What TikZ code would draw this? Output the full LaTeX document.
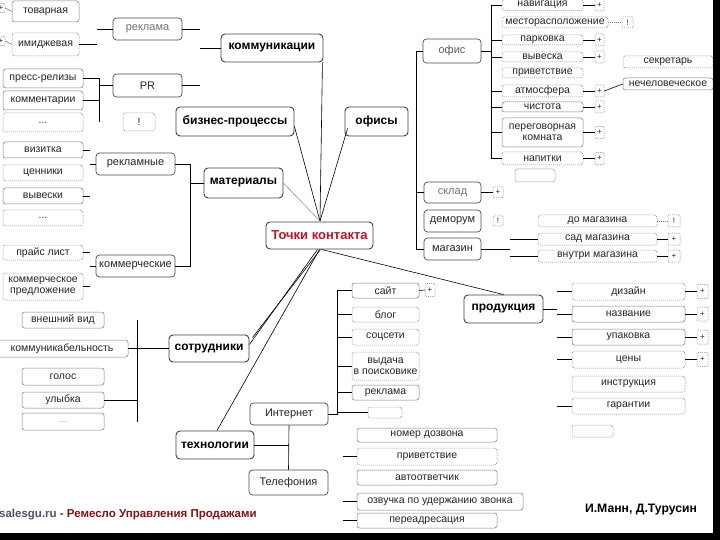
\documentclass[tikz,border=0pt]{standalone}
\usepackage{fontspec}
\setmainfont{Liberation Sans}
\usetikzlibrary{calc}
\definecolor{tkred}{RGB}{190,20,40}
\definecolor{footred}{RGB}{130,20,20}
\definecolor{footgray}{RGB}{80,80,105}
\tikzset{
  box/.style={draw=black!50, rounded corners=2.5pt, inner sep=0pt, line width=0.5pt,
    font=\fontsize{10.5}{11}\selectfont, text=black!85, align=center},
  dbox/.style={box, dash pattern=on 1pt off 1pt},
  cbox/.style={box, draw=black!70, line width=0.7pt, rounded corners=3.5pt, font=\fontsize{11}{12}\selectfont},
  mbox/.style={draw=black!75, rounded corners=4pt, line width=0.9pt, inner sep=0pt,
    font=\fontsize{12}{13}\selectfont\bfseries, align=center},
  pbox/.style={dbox, font=\fontsize{8}{8}\selectfont, rounded corners=1pt},
  ln/.style={line width=0.6pt, black},
  thinln/.style={line width=0.5pt, black!50, dash pattern=on 1pt off 1pt},
}
\begin{document}
\begin{tikzpicture}[x=1pt,y=-1pt]
\useasboundingbox (0,0) rectangle (720,540);
\clip (0,0) rectangle (720,540);
\fill[white] (0,0) rectangle (720,540);

% ---------- communications ----------
\node[box, minimum width=67, minimum height=21] (tov) at (45.5,11.5) {товарная};
\node[dbox, minimum width=67, minimum height=23] (imid) at (45.5,44.5) {имиджевая};
\node[pbox, minimum width=8, minimum height=9] (ic1) at (1,8) {+};
\node[pbox, minimum width=8, minimum height=9] (ic2) at (1,41) {+};
\draw[line width=0.4pt, black!70] (ic1.east) -- (tov.west);
\draw[line width=0.4pt, black!70] (ic2.east) -- (imid.west);
\node[cbox, text=black!55, minimum width=69, minimum height=22] (rekl) at (147.5,29) {реклама};
\node[mbox, minimum width=102, minimum height=28] (komm) at (272,48) {коммуникации};
\draw[ln] (imid.east) -- ++(18,0);
\draw[ln] (rekl.west) -- ++(-16,0);
\draw[ln] (rekl.east) -- ++(18,0);
\draw[ln] (komm.west) -- ++(-21,0);

\node[box, minimum width=80, minimum height=19] (press) at (43,78.5) {пресс-релизы};
\node[box, minimum width=80, minimum height=19] (koms) at (43,100.5) {комментарии};
\node[dbox, minimum width=80, minimum height=19] (dots1) at (43,122.5) {...};
\node[cbox, minimum width=69, minimum height=23] (pr) at (147.5,85.5) {PR};
\coordinate (prj) at (99,85.5);
\draw[ln] (press.east) -| (99,122);
\draw[ln] (koms.east) -- (koms.east -| prj);
\draw[ln] (prj) -- (pr.west);
\draw[ln] (pr.east) -- ++(18,0);
\node[dbox, minimum width=32, minimum height=18] (ib) at (139,122) {!};

% ---------- main nodes ----------
\node[mbox, minimum width=118, minimum height=29] (biz) at (235,121.5) {бизнес-процессы};
\node[mbox, minimum width=63, minimum height=29] (ofisy) at (376.5,121.5) {офисы};
\node[mbox, text=tkred, font=\fontsize{13}{14}\selectfont\bfseries, minimum width=107, minimum height=27] (tk) at (319.5,235.5) {Точки контакта};
\node[mbox, minimum width=79, minimum height=30] (mat) at (243.5,183) {материалы};
\coordinate (hubt) at (320,221);
\draw[ln] ($(biz.east)+(0,5)$) -- (hubt);
\draw[ln] ($(ofisy.south west)+(3,-8)$) -- (hubt);
\draw[ln] ($(komm.south east)+(-1,0)$) -- (hubt);
\draw[line width=0.4pt, black!55] (mat.east) -- (hubt);

% ---------- materials ----------
\node[box, minimum width=80, minimum height=16] (viz) at (43,150) {визитка};
\node[dbox, minimum width=80, minimum height=16] (cen) at (43,173) {ценники};
\node[box, minimum width=80, minimum height=16] (vyv) at (43,196) {вывески};
\node[dbox, minimum width=80, minimum height=16] (dots2) at (43,218) {...};
\node[dbox, minimum width=80, minimum height=15] (price) at (43,252.5) {прайс лист};
\node[dbox, minimum width=80, minimum height=27] (kp) at (43,286.5) {коммерческое\\предложение};
\node[cbox, minimum width=79, minimum height=22] (rn) at (135.5,164) {рекламные};
\node[cbox, minimum width=79, minimum height=22] (kn) at (135.5,266) {коммерческие};
\draw[ln] (viz.east) -- ++(7,0);
\draw[ln] (vyv.east) -- ++(7,0);
\draw[ln] (price.east) -- ++(7,0);
\draw[ln] (kp.east) -- ++(7,0);
\draw[ln] (rn.west) -- ++(-6,0);
\draw[ln] (kn.west) -- ++(-6,0);
\draw[ln] (rn.east) -- ++(15,0) |- (kn.east);
\draw[ln] (mat.west) -- ++(-14,0);

% ---------- staff ----------
\node[box, minimum width=82, minimum height=16] (vn) at (63,320) {внешний вид};
\node[box, minimum width=132, minimum height=17] (kb) at (62,348.5) {коммуникабельность};
\node[box, minimum width=82, minimum height=17] (gol) at (63,376.5) {голос};
\node[box, minimum width=82, minimum height=16] (ul) at (63,400) {улыбка};
\node[box, text=black!35, minimum width=82, minimum height=17] (dots6) at (63,421.5) {...};
\node[mbox, minimum width=80, minimum height=27] (sotr) at (209,348.5) {сотрудники};
\coordinate (sv1) at (137,320);
\coordinate (sv2) at (137,422);
\draw[ln] (sv1) -- (sv2);
\draw[ln] (kb.east) -- (sotr.west);
\draw[ln] (ul.east) -- ++(33,0);

% ---------- technologies ----------
\node[mbox, minimum width=78, minimum height=28] (tech) at (215,445) {технологии};
\node[cbox, minimum width=78, minimum height=22] (inet) at (289,414) {Интернет};
\node[cbox, minimum width=79, minimum height=25] (tel) at (288.5,482.5) {Телефония};
\draw[ln] (tech.east) -- (tech.east -| inet.south);
\draw[ln] (inet.south) -- (tel.north);

\node[box, minimum width=67, minimum height=15] (sait) at (385.5,290.5) {сайт};
\node[dbox, minimum width=67, minimum height=15] (blog) at (385.5,314.5) {блог};
\node[dbox, minimum width=67, minimum height=16] (socs) at (385.5,337) {соцсети};
\node[dbox, minimum width=67, minimum height=28] (vyd) at (385.5,366) {выдача\\в поисковике};
\node[box, minimum width=67, minimum height=15] (rek2) at (385.5,392.5) {реклама};
\node[dbox, minimum width=34, minimum height=11] (dots3) at (385,412.5) {};
\node[pbox, minimum width=10, minimum height=13] (saitp) at (430,290) {+};
\draw[ln] (sait.east) -- (saitp.west);
\draw[ln] (sait.west) -- ++(-14,0) |- (inet.east);
\draw[ln] (blog.west) -- ++(-14,0);
\draw[ln] (socs.west) -- ++(-14,0);
\draw[ln] (vyd.west) -- ++(-14,0);
\draw[ln] (rek2.west) -- ++(-14,0);
\draw[ln] (dots3.west) -- ++(-30,0);

\node[box, minimum width=140, minimum height=14] (nomer) at (427,435) {номер дозвона};
\node[dbox, minimum width=140, minimum height=17] (priv2) at (427,456.5) {приветствие};
\node[box, minimum width=140, minimum height=15] (avto) at (427,477.5) {автоответчик};
\node[box, minimum width=166, minimum height=17] (ozv) at (440,501.5) {озвучка по удержанию звонка};
\node[box, minimum width=140, minimum height=15] (pere) at (427,520.5) {переадресация};
\draw[ln] (priv2.west) -- ++(-14,0);
\draw[ln] (ozv.west) -- ++(-14,0);
\draw[ln] (pere.west) -- ++(-14,0);

% ---------- products ----------
\node[mbox, minimum width=79, minimum height=28] (prod) at (503.5,309) {продукция};
\draw[ln] (prod.east) -- ++(14,0);
\node[dbox, minimum width=113, minimum height=17] (diz) at (628.5,291.5) {дизайн};
\node[box, minimum width=113, minimum height=16] (nazv) at (628.5,314) {название};
\node[box, minimum width=113, minimum height=16] (upak) at (628.5,337) {упаковка};
\node[dbox, minimum width=113, minimum height=17] (ceny) at (628.5,359.5) {цены};
\node[dbox, minimum width=113, minimum height=16] (instr) at (628.5,384) {инструкция};
\node[dbox, minimum width=113, minimum height=16] (gar) at (628.5,406) {гарантии};
\node[dbox, minimum width=41, minimum height=12] (dots4) at (592.5,431) {};
\foreach \n in {diz,nazv,upak,ceny,gar} { \draw[ln] (\n.west) -- ++(-15,0); }
\foreach \n in {diz,nazv,upak,ceny} {
  \node[pbox, minimum width=11, minimum height=14] (\n p) at (\n.east -| 702.5,0) {+};
  \draw[ln] (\n.east) -- (\n p.west);
}

% ---------- offices ----------
\node[cbox, text=black!65, minimum width=58, minimum height=24] (ofis) at (452,51) {офис};
\node[cbox, text=black!55, minimum width=57, minimum height=21] (sklad) at (452.5,192.5) {склад};
\node[cbox, minimum width=57, minimum height=22] (demo) at (452.5,221) {деморум};
\node[cbox, minimum width=57, minimum height=22] (mag) at (452.5,249) {магазин};
\draw[ln] (ofis.west) -- ++(-6,0) |- (mag.west);
\draw[ln] (sklad.west) -- ++(-7,0);

\node[dbox, minimum width=81, minimum height=11] (nav) at (542.5,5) {навигация};
\node[dbox, minimum width=106, minimum height=11] (mesto) at (555,22.5) {месторасположение};
\node[dbox, minimum width=81, minimum height=10] (park) at (542.5,40) {парковка};
\node[dbox, minimum width=81, minimum height=10] (vyv2) at (542.5,57) {вывеска};
\node[dbox, minimum width=81, minimum height=10] (priv) at (542.5,73) {приветствие};
\node[dbox, minimum width=81, minimum height=12] (atm) at (542.5,91) {атмосфера};
\node[box, minimum width=81, minimum height=10] (chist) at (542.5,107) {чистота};
\node[box, minimum width=81, minimum height=29] (pereg) at (542.5,132.5) {переговорная\\комната};
\node[dbox, minimum width=81, minimum height=13] (nap) at (542.5,158.5) {напитки};
\node[box, draw=black!35, minimum width=40, minimum height=13] (dots5) at (535,175.5) {};
\node[pbox, minimum width=11, minimum height=11] (mestop) at (627.5,22.5) {!};
\draw[thinln] (mesto.east) -- (mestop.west);
\draw[ln] (ofis.east) -- ++(11,0);
\draw[ln] (nav.west) -- ++(-10,0) |- (nap.west);
\foreach \n in {park,vyv2,atm,chist,pereg} { \draw[ln] (\n.west) -- ++(-10,0); }
\foreach \n in {nav,park,vyv2,atm,chist,pereg,nap} {
  \node[pbox, minimum width=9, minimum height=12] (\n p) at (\n.east -| 599.5,0) {+};
  \draw[ln] (\n.east) -- (\n p.west);
}
\node[dbox, minimum width=90, minimum height=12] (sekr) at (668,62) {секретарь};
\node[box, minimum width=90, minimum height=12] (nechel) at (668,84) {нечеловеческое};
\draw[ln] (atmp.east) -- (nechel.west);

\node[pbox, minimum width=10, minimum height=11] (skladp) at (498,192.5) {+};
\draw[ln] (sklad.east) -- (skladp.west);
\node[pbox, minimum width=10, minimum height=10] (demop) at (498,221) {!};
\draw[ln] (mag.east) -- ++(29,0);
\node[dbox, minimum width=119, minimum height=12] (domag) at (597.5,221) {до магазина};
\node[dbox, minimum width=119, minimum height=12] (sad) at (597.5,239) {сад магазина};
\node[dbox, minimum width=119, minimum height=12] (vnutri) at (597.5,256) {внутри магазина};
\node[pbox, minimum width=12, minimum height=12] (domagp) at (674,221) {!};
\node[pbox, minimum width=12, minimum height=12] (sadp) at (674,239) {+};
\node[pbox, minimum width=12, minimum height=12] (vnutrip) at (674,256) {+};
\draw[thinln] (domag.east) -- (domagp.west);
\draw[ln] (sad.east) -- (sadp.west);
\draw[ln] (vnutri.east) -- (vnutrip.west);
\draw[ln] (sad.west) -- ++(-28,0);
\draw[ln] (vnutri.west) -- ++(-28,0);

% ---------- centre links downward ----------
\draw[ln] ($(tk.south)+(2,0)$) -- (prod.north);
\draw[ln] ($(tk.south)+(-2,0)$) -- ($(sotr.east)+(0,-4)$);
\draw[ln] ($(tk.south)+(1,0)$) -- ($(sotr.north east)+(3,3)$);
\draw[ln] (tk.south) -- ($(tech.north)+(2,0)$);

% ---------- footer ----------
\node[anchor=west, inner sep=0pt, font=\fontsize{11.5}{12}\selectfont\bfseries] (foot) at (-1,515)
  {\textcolor{footgray}{salesgu.ru} \textcolor{footred}{- Ремесло Управления Продажами}};
\node[inner sep=0pt, font=\fontsize{12.2}{13}\selectfont\bfseries] (auth) at (641,510) {И.Манн, Д.Турусин};

\fill[black] (713,0) rectangle (720,540);
\fill[black] (0,533) rectangle (720,540);
\end{tikzpicture}
\end{document}
